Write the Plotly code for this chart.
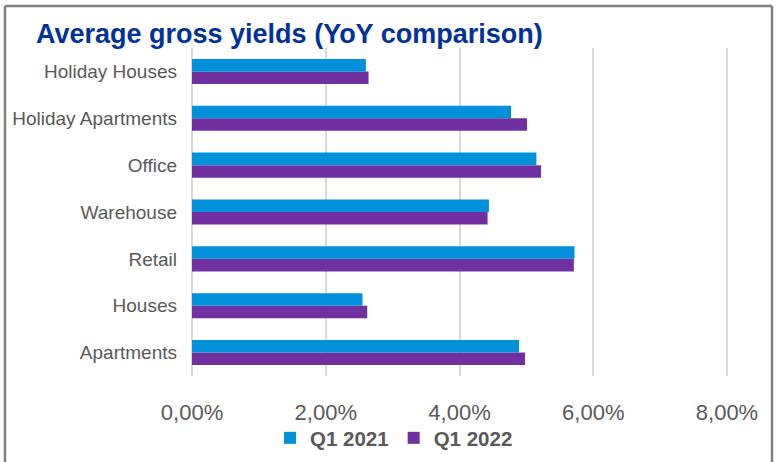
import plotly.graph_objects as go

categories = ["Apartments", "Houses", "Retail", "Warehouse", "Office",
              "Holiday Apartments", "Holiday Houses"]
q1_2021 = [0.0489, 0.0255, 0.0572, 0.0444, 0.0515, 0.0477, 0.0260]
q1_2022 = [0.0498, 0.0262, 0.0571, 0.0442, 0.0522, 0.0501, 0.0264]
tick_vals = [0, 0.02, 0.04, 0.06, 0.08]
tick_text = ["0,00%", "2,00%", "4,00%", "6,00%", "8,00%"]

BLUE = "#0091DA"
PURPLE = "#7030A0"
GRAY = "#595959"
FONT = "Liberation Sans, Arial, sans-serif"

fig = go.Figure()
fig.add_trace(go.Bar(y=categories, x=q1_2022, name="<b>Q1 2022</b>", orientation="h",
                     marker=dict(color=PURPLE, line=dict(width=0)), legendrank=2))
fig.add_trace(go.Bar(y=categories, x=q1_2021, name="<b>Q1 2021</b>", orientation="h",
                     marker=dict(color=BLUE, line=dict(width=0)), legendrank=1))

W, H = 776, 462
L, T = 192, 48
XMAX = 0.0803
pw = 535 * XMAX / 0.08
R = W - L - pw
B = H - 376
ph = H - T - B

def px_x(px):
    return (px - L) / pw

def px_y(py):
    return 1 - (py - T) / ph

border = dict(color="#808080", width=2.5)
bx0, bx1, by0, by1 = px_x(5), px_x(772), px_y(480), px_y(6)
frame = [
    dict(type="line", xref="paper", yref="paper", x0=bx0, x1=bx1, y0=by1, y1=by1, line=border, layer="above"),
    dict(type="line", xref="paper", yref="paper", x0=bx0, x1=bx0, y0=by0, y1=by1, line=border, layer="above"),
    dict(type="line", xref="paper", yref="paper", x0=bx1, x1=bx1, y0=by0, y1=by1, line=border, layer="above"),
]

fig.update_layout(
    width=W, height=H,
    margin=dict(l=L, r=R, t=T, b=B, pad=0, autoexpand=False),
    paper_bgcolor="white", plot_bgcolor="white",
    barmode="group", bargap=0.465, bargroupgap=0,
    font=dict(family=FONT, color=GRAY),
    title=dict(text="<b>Average gross yields (YoY comparison)</b>",
               font=dict(family=FONT, size=27, color="#003399"),
               x=36 / W, xanchor="left", y=1 - 34 / H, yanchor="middle"),
    xaxis=dict(range=[0, XMAX], tickvals=tick_vals, ticktext=tick_text,
               automargin=False,
               showgrid=True, gridcolor="#D9D9D9", gridwidth=2,
               zeroline=True, zerolinecolor="#D9D9D9", zerolinewidth=2,
               showline=False, ticks="", ticklabelstandoff=21,
               tickfont=dict(family=FONT, size=22, color=GRAY), fixedrange=True),
    yaxis=dict(showgrid=False, zeroline=False, showline=False, ticks="",
               automargin=False, ticklabelstandoff=14,
               tickfont=dict(family=FONT, size=19, color=GRAY), fixedrange=True),
    legend=dict(orientation="h", x=px_x(270), xanchor="left",
                y=px_y(438), yanchor="middle", traceorder="normal",
                font=dict(family=FONT, size=20.5, color=GRAY),
                itemwidth=30, bgcolor="rgba(0,0,0,0)"),
    showlegend=True,
    shapes=frame,
)

fig.write_html("out.html", config={"displayModeBar": False},
               post_script="document.body.style.margin='0';document.body.style.overflow='hidden';")
